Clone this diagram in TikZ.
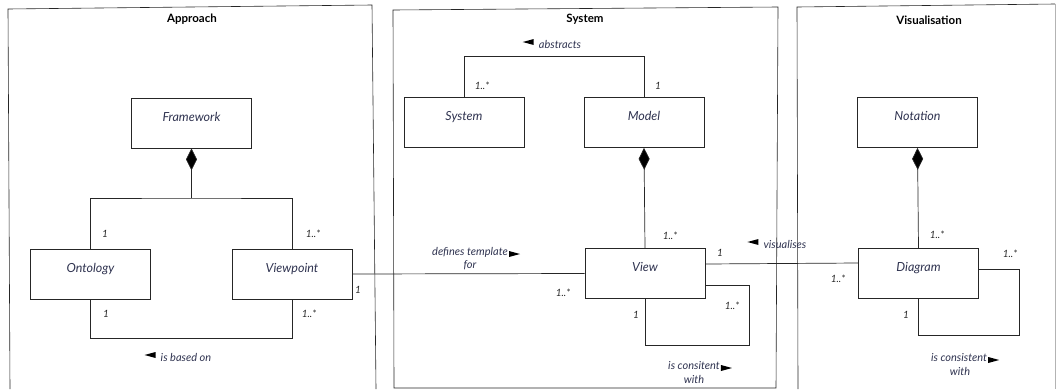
\documentclass[tikz,border=0pt]{standalone}
\usepackage{fontspec}
\setmainfont{Lato}
\usetikzlibrary{arrows.meta}
\definecolor{ink}{HTML}{262626}
\definecolor{namecol}{HTML}{2F3350}
\begin{document}
\begin{tikzpicture}[x=1pt,y=-1pt,
  panel/.style={draw=ink, line width=0.6pt},
  umlclass/.style={draw=ink, line width=0.7pt, minimum width=120pt, minimum height=50pt,
    inner sep=0pt, text height=8pt, text depth=12pt,
    font=\itshape\fontsize{12.5}{14}\selectfont, text=namecol},
  title/.style={font=\bfseries\fontsize{11.5}{13}\selectfont, inner sep=0pt},
  mult/.style={font=\itshape\fontsize{10}{11}\selectfont, text=ink, inner sep=0pt},
  assoc/.style={font=\itshape\fontsize{11}{12}\selectfont, text=namecol, inner sep=0pt},
  link/.style={draw=ink, line width=0.7pt},
  comp/.style={link, {Diamond[length=22pt,width=11pt,fill=black]}-},
  dirleft/.pic={\fill[black] (0,0) -- (11pt,3pt) -- (11pt,-3pt) -- cycle;},
  dirright/.pic={\fill[black] (0,0) -- (-11pt,3pt) -- (-11pt,-3pt) -- cycle;},
]
\useasboundingbox (0,0) rectangle (1057,389);

% package frames
\draw[panel] (10,389) -- (8,9) -- (372,5) -- (376,389);
\draw[panel] (394,388) -- (393,10) -- (778,7) -- (776,388) -- cycle;
\draw[panel] (798,389) -- (797,7) -- (1055,4);
\draw[panel, draw=ink!35] (1055,4) -- (1055,389);

\node[title] (tA) at (192,19) {Approach};
\node[title] (tS) at (585,19) {System};
\node[title] (tV) at (929,20) {Visualisation};

% classes
\node[umlclass] (fw)    at (191.5,123) {Framework};
\node[umlclass] (onto)  at (90.5,274.5) {Ontology};
\node[umlclass] (vp)    at (292,274) {Viewpoint};
\node[umlclass] (sys)   at (464,122.5) {System};
\node[umlclass] (model) at (644,122.5) {Model};
\node[umlclass] (view)  at (645,273.5) {View};
\node[umlclass] (nota)  at (917.5,122.5) {Notation};
\node[umlclass] (diag)  at (918.5,273.5) {Diagram};

% junctions and loop corners
\coordinate (fwj) at (191.5,198);
\coordinate (vloop) at (749,345);
\coordinate (dloop) at (1019,335);

% Approach
\draw[comp] (fw.south) -- (fwj);
\draw[link] (onto.north) |- (fwj) -| (vp.north);
\draw[link] (onto.south) -- ++(0,38) -| (vp.south);
\node[mult] at (105,234) {1};
\node[mult] at (313,234) {1..*};
\node[mult] at (106,314) {1};
\node[mult] at (309,314) {1..*};
\node[assoc] (based) at (186,357) {is based on};
\pic at ([xshift=-16pt,yshift=2pt]based.west) {dirleft};

% Viewpoint defines template for View
\draw[link] (vp.east) -- (view.west);
\node[mult] at (358,290) {1};
\node[mult] at (563,293) {1..*};
\node[assoc] (dt1) at (470,252) {defines template};
\node[assoc] (dt2) at (470,265) {for};
\pic at ([xshift=12pt,yshift=-2pt]dt1.east) {dirright};

% System
\draw[link] (sys.north) -- ++(0,-41) -| (model.north);
\node[mult] at (482,86) {1..*};
\node[mult] at (658,86) {1};
\node[assoc] (abs) at (560,44) {abstracts};
\pic at ([xshift=-16pt,yshift=2pt]abs.west) {dirleft};

\draw[comp] (model.south) -- (view.north);
\node[mult] at (670,236) {1..*};

\draw[link] ([yshift=-11.5pt]view.east) -| (vloop) -| (view.south);
\node[mult] at (732,306) {1..*};
\node[mult] at (636,315) {1};
\node[assoc] (vc1) at (694,366) {is consitent};
\node[assoc] (vc2) at (694,379) {with};
\pic at ([xshift=12pt,yshift=-2pt]vc1.east) {dirright};

% View visualises Diagram
\draw[link] ([yshift=9.5pt]view.east) -- ([yshift=10.5pt]diag.west);
\node[mult] at (720,253) {1};
\node[mult] at (838,279) {1..*};
\node[assoc] (vis) at (785,244) {visualises};
\pic at ([xshift=-16pt,yshift=2pt]vis.west) {dirleft};

% Visualisation
\draw[comp] (nota.south) -- (diag.north);
\node[mult] at (937,235) {1..*};
\draw[link] ([yshift=4.5pt]diag.east) -| (dloop) -| (diag.south);
\node[mult] at (1010,254) {1..*};
\node[mult] at (906,315) {1};
\node[assoc] (dc1) at (959,358) {is consistent};
\node[assoc] (dc2) at (960,371) {with};
\pic at ([xshift=12pt,yshift=-2pt]dc1.east) {dirright};
\end{tikzpicture}
\end{document}
